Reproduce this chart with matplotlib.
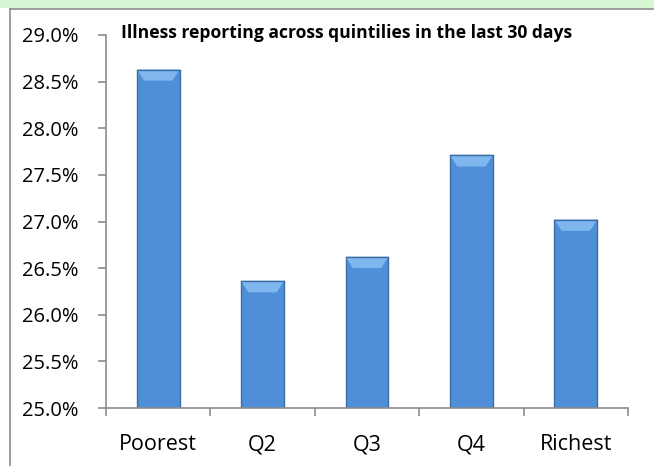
import matplotlib.pyplot as plt
from matplotlib.patches import Rectangle
from matplotlib.lines import Line2D
from matplotlib.ticker import FuncFormatter, FixedLocator, NullFormatter
import numpy as np

categories = ['Poorest', 'Q2', 'Q3', 'Q4', 'Richest']
illness_pct = [28.63, 26.36, 26.62, 27.71, 27.02]
y_ticks = [25.0, 25.5, 26.0, 26.5, 27.0, 27.5, 28.0, 28.5, 29.0]
title = 'Illness reporting across quintilies in the last 30 days'

W, H = 654, 466
fig = plt.figure(figsize=(W / 100, H / 100), dpi=100)
fig.patch.set_facecolor('white')

# green strip + frame like the spreadsheet cell border
fig.patches.append(Rectangle((0, 1 - 8 / H), 1, 8 / H, transform=fig.transFigure,
                             facecolor='#d6f7d4', edgecolor='none', zorder=0))
fig.lines.append(Line2D([10 / W, 10 / W], [0, 1 - 9 / H], transform=fig.transFigure,
                        color='#8c8c8c', lw=1.2))
fig.lines.append(Line2D([10 / W, 1], [1 - 9 / H, 1 - 9 / H], transform=fig.transFigure,
                        color='#8c8c8c', lw=1.2))

ax = fig.add_axes([106 / W, (H - 408) / H, (628 - 106) / W, (408 - 35) / H])
x = np.arange(len(categories))
bw = 0.41
base = 25.0
heights = np.array(illness_pct) - base
ax.bar(x, heights, bottom=base, width=bw, color='#4f8fd8', edgecolor='#3b6ea8',
       linewidth=1.0, zorder=2)
# lighter bevel on top of each bar
for xi, v in zip(x, illness_pct):
    cap = 0.12
    ax.fill([xi - bw / 2, xi + bw / 2, xi + bw / 2 - 0.07, xi - bw / 2 + 0.07],
            [v, v, v - cap, v - cap], color='#7fb6ee', zorder=3, lw=0)
    ax.plot([xi - bw / 2, xi + bw / 2], [v, v], color='#3b6ea8', lw=1.0, zorder=4)

ax.set_xlim(-0.5, len(categories) - 0.5)
ax.set_ylim(25.0, 29.0)
ax.set_yticks(y_ticks)
ax.yaxis.set_major_formatter(FuncFormatter(lambda v, p: f'{v:.1f}%'))
ax.xaxis.set_major_locator(FixedLocator(np.arange(-0.5, len(categories), 1.0)))
ax.xaxis.set_major_formatter(NullFormatter())
ax.xaxis.set_minor_locator(FixedLocator(x))
ax.set_xticklabels(categories, minor=True)
ax.tick_params(axis='x', which='minor', length=0, pad=19, labelsize=15.5)
ax.tick_params(axis='x', which='major', length=6, color='#8c8c8c', width=1.2, direction='out')
ax.tick_params(axis='y', length=6, color='#8c8c8c', width=1.2, direction='out', labelsize=14.5, pad=13.5)
for lab in ax.get_xticklabels(minor=True) + ax.get_yticklabels():
    lab.set_fontfamily('Open Sans')

for s in ['top', 'right']:
    ax.spines[s].set_visible(False)
for s in ['left', 'bottom']:
    ax.spines[s].set_color('#8c8c8c')
    ax.spines[s].set_linewidth(1.2)

fig.text(121 / W, 1 - 33 / H, title, fontsize=12.6, fontweight='bold', family='Open Sans',
         va='center', ha='left')

fig.savefig('out.png', dpi=100)
